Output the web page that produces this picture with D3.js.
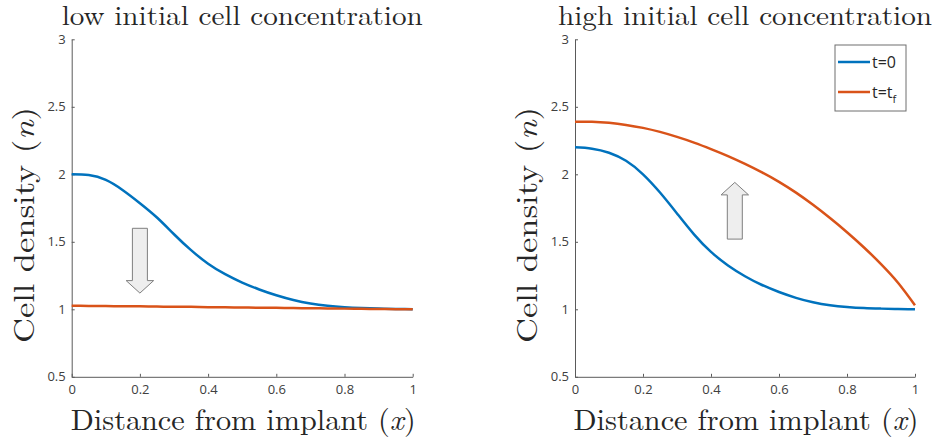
<!DOCTYPE html>
<html>
<head>
<meta charset="utf-8">
<script src="https://cdn.jsdelivr.net/npm/d3@7"></script>
<style>
body { margin: 0; background: #fff; }
</style>
</head>
<body>
<svg id="drawing_region"></svg>
<script>
// values
const xs = [0, 0.05, 0.1, 0.15, 0.2, 0.25, 0.3, 0.35, 0.4, 0.45, 0.5,
            0.55, 0.6, 0.65, 0.7, 0.75, 0.8, 0.85, 0.9, 0.95, 1];

const lowStart = [2.00, 1.994, 1.958, 1.882, 1.786, 1.68, 1.556, 1.438, 1.338, 1.26, 1.198,
                  1.147, 1.104, 1.069, 1.043, 1.026, 1.016, 1.01, 1.006, 1.003, 1.0];
const lowEnd = [1.026, 1.025, 1.024, 1.023, 1.022, 1.02, 1.019, 1.018, 1.016, 1.015, 1.013,
                1.012, 1.011, 1.009, 1.008, 1.006, 1.005, 1.004, 1.002, 1.001, 1.0];

const highStart = [2.20, 2.19, 2.16, 2.10, 2.00, 1.865, 1.71, 1.555, 1.425, 1.325, 1.245,
                   1.18, 1.128, 1.085, 1.052, 1.03, 1.017, 1.009, 1.005, 1.002, 1.0];
const highEnd = [2.39, 2.389, 2.381, 2.366, 2.344, 2.314, 2.277, 2.235, 2.187, 2.135, 2.077,
                 2.014, 1.944, 1.864, 1.774, 1.676, 1.571, 1.458, 1.335, 1.197, 1.03];

const xTicks = [0, 0.2, 0.4, 0.6, 0.8, 1];
const yTicks = [0.5, 1, 1.5, 2, 2.5, 3];
const titles = ['low initial cell concentration', 'high initial cell concentration'];
const seriesNames = ['t=0', 't=t'];

// arrow: x position, tail value, tip value
const lowArrow = { x: 0.2, from: 1.6, to: 1.12 };
const highArrow = { x: 0.47, from: 1.52, to: 1.94 };

const colors = ['#0072BD', '#D95319'];
const serif = '"Latin Modern Roman", "Liberation Serif", serif';

const svg = d3.select('#drawing_region')
    .attr('width', 942)
    .attr('height', 445)
    .attr('font-family', '"Open Sans", sans-serif');

class Panel {

    constructor( config ) {
        this.config = config;
        this.init();
    }

    init() {
        let self = this;
        const c = self.config;

        self.xscale = d3.scaleLinear()
            .domain([0, 1])
            .range([c.left, c.left + c.width]);

        self.yscale = d3.scaleLinear()
            .domain([0.5, 3])
            .range([c.top + c.height, c.top]);

        self.chart = svg.append('g');
    }

    render() {
        let self = this;
        const c = self.config;

        const xaxis = d3.axisBottom( self.xscale )
            .tickValues( xTicks )
            .tickFormat( d => String(d) )
            .tickSizeInner( -3 )
            .tickSizeOuter( 0 )
            .tickPadding( 8 );

        const yaxis = d3.axisLeft( self.yscale )
            .tickValues( yTicks )
            .tickFormat( d => String(d) )
            .tickSizeInner( -3 )
            .tickSizeOuter( 0 )
            .tickPadding( 6 );

        const xg = self.chart.append('g')
            .attr('transform', `translate(0, ${c.top + c.height})`)
            .call( xaxis );
        const yg = self.chart.append('g')
            .attr('transform', `translate(${c.left}, 0)`)
            .call( yaxis );

        [xg, yg].forEach( g => {
            g.attr('font-family', '"Open Sans", sans-serif').attr('font-size', 13);
            g.select('.domain').attr('stroke', '#5a5a5a');
            g.selectAll('.tick line').attr('stroke', '#5a5a5a');
            g.selectAll('.tick text').attr('fill', '#404040');
        });

        const line = d3.line()
            .x( (d, i) => self.xscale( xs[i] ) )
            .y( d => self.yscale( d ) )
            .curve( d3.curveNatural );

        c.series.forEach( (s, i) => {
            self.chart.append('path')
                .datum( s )
                .attr('fill', 'none')
                .attr('stroke', colors[i])
                .attr('stroke-width', 2.5)
                .attr('d', line);
        });

        // arrow
        const a = c.arrow;
        const cx = self.xscale( a.x );
        const y0 = self.yscale( a.from );
        const y1 = self.yscale( a.to );
        const dir = y1 > y0 ? 1 : -1;
        const hb = y1 - dir * 12.5;
        const sw = 7.5, hw = 13.75;
        const p = d3.path();
        p.moveTo(cx - sw, y0);
        p.lineTo(cx + sw, y0);
        p.lineTo(cx + sw, hb);
        p.lineTo(cx + hw, hb);
        p.lineTo(cx, y1);
        p.lineTo(cx - hw, hb);
        p.lineTo(cx - sw, hb);
        p.closePath();
        self.chart.append('path')
            .attr('d', p.toString())
            .attr('fill', '#eeeeee')
            .attr('stroke', '#7f7f7f')
            .attr('stroke-width', 1);

        const midx = c.left + c.width / 2;

        self.chart.append('text')
            .attr('x', midx)
            .attr('y', 24.5)
            .attr('text-anchor', 'middle')
            .attr('textLength', c.titleLength)
            .attr('lengthAdjust', 'spacingAndGlyphs')
            .attr('font-family', serif)
            .attr('font-size', 27.5)
            .attr('fill', '#262626')
            .text( c.title );

        const xl = self.chart.append('text')
            .attr('x', midx + 1)
            .attr('y', 430)
            .attr('text-anchor', 'middle')
            .attr('textLength', 345)
            .attr('lengthAdjust', 'spacingAndGlyphs')
            .attr('font-family', serif)
            .attr('font-size', 29)
            .attr('fill', '#262626');
        xl.append('tspan').text('Distance from implant (');
        xl.append('tspan').attr('font-style', 'italic').text('x');
        xl.append('tspan').text(')');

        const yl = self.chart.append('text')
            .attr('transform', `translate(${c.left - 38}, 225) rotate(-90)`)
            .attr('text-anchor', 'middle')
            .attr('textLength', 236)
            .attr('lengthAdjust', 'spacingAndGlyphs')
            .attr('font-family', serif)
            .attr('font-size', 29)
            .attr('fill', '#262626');
        yl.append('tspan').text('Cell density (');
        yl.append('tspan').attr('font-style', 'italic').text('n');
        yl.append('tspan').text(')');

        if ( c.legend ) {
            const lg = self.chart.append('g')
                .attr('transform', 'translate(835, 45)');
            lg.append('rect')
                .attr('width', 71)
                .attr('height', 66)
                .attr('fill', '#fff')
                .attr('stroke', '#6e6e6e')
                .attr('stroke-width', 1);
            seriesNames.forEach( (name, i) => {
                const yy = 17 + i * 30;
                lg.append('line')
                    .attr('x1', 3).attr('x2', 35)
                    .attr('y1', yy).attr('y2', yy)
                    .attr('stroke', colors[i])
                    .attr('stroke-width', 2.5);
                const t = lg.append('text')
                    .attr('x', 37)
                    .attr('y', yy + 6)
                    .attr('fill', '#262626')
                    .attr('font-size', 16)
                    .text( name );
                if ( i === 1 ) {
                    t.append('tspan')
                        .attr('dy', 5)
                        .attr('font-size', 11)
                        .text('f');
                }
            });
        }
    }
}

const left = new Panel({
    left: 71.7, width: 341, top: 39.3, height: 337.5,
    series: [lowStart, lowEnd], arrow: lowArrow,
    title: titles[0], titleLength: 361, legend: false
});
left.render();

const right = new Panel({
    left: 575, width: 340, top: 39.3, height: 337.5,
    series: [highStart, highEnd], arrow: highArrow,
    title: titles[1], titleLength: 374, legend: true
});
right.render();
</script>
</body>
</html>
